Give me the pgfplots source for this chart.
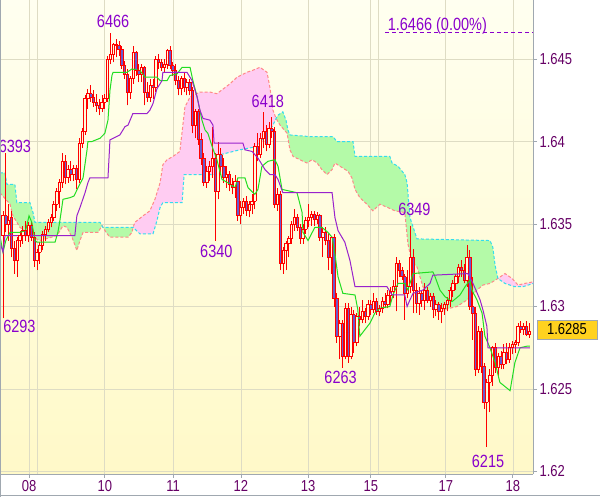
\documentclass[border=0pt]{standalone}
\usepackage{fontspec}
\setmainfont{Liberation Sans}
\usepackage{graphicx}
\usepackage{pgfplots}
\usepackage{pgfplotstable}
\pgfplotsset{compat=1.18}
\definecolor{bgtop}{HTML}{FFFFF0}
\definecolor{bgbot}{HTML}{FFF9C8}
\definecolor{gridc}{HTML}{DEDCC4}
\definecolor{axgray}{HTML}{A0A8B0}
\definecolor{tickc}{HTML}{660066}
\definecolor{annotc}{HTML}{8A00CC}
\definecolor{cred}{HTML}{FF0000}
\definecolor{bearfill}{HTML}{6A5ACD}
\definecolor{bullfill}{HTML}{FFFCDC}
\definecolor{tenkanc}{HTML}{22DD22}
\definecolor{kijunc}{HTML}{9922CC}
\definecolor{spanac}{HTML}{33DDEE}
\definecolor{spanbc}{HTML}{FF8888}
\definecolor{greenfill}{HTML}{B4FAA8}
\definecolor{pinkfill}{HTML}{FFCCF2}
\definecolor{goldc}{HTML}{FFD21F}
\newcommand{\tl}[1]{\scalebox{1}[1.22]{#1}}
\pgfplotsset{nomark/.style={only marks, mark=*, mark size=0pt, mark options={draw=none, fill=none}}}

\pgfplotstableread{
i o h l c
0 1.6343 1.6358 1.6293 1.6355
1 1.6355 1.6393 1.6345 1.6350
2 1.6350 1.6362 1.6340 1.6352
3 1.6354 1.6358 1.6330 1.6335
4 1.6335 1.6340 1.6320 1.6328
5 1.6328 1.6342 1.6318 1.6340
6 1.6340 1.6346 1.6336 1.6343
7 1.6343 1.6349 1.6338 1.6346
8 1.6346 1.6352 1.6340 1.6343
9 1.6343 1.6351 1.6339 1.6349
10 1.6349 1.6352 1.6340 1.6342
11 1.6342 1.6345 1.6324 1.6328
12 1.6328 1.6335 1.6322 1.6333
13 1.6333 1.6339 1.6326 1.6337
14 1.6337 1.6346 1.6334 1.6344
15 1.6344 1.6349 1.6340 1.6347
16 1.6347 1.6353 1.6345 1.6351
17 1.6351 1.6356 1.6348 1.6354
18 1.6354 1.6364 1.6352 1.6362
19 1.6362 1.6372 1.6358 1.6370
20 1.6370 1.6377 1.6360 1.6375
21 1.6375 1.6393 1.6372 1.6388
22 1.6388 1.6392 1.6374 1.6378
23 1.6378 1.6386 1.6375 1.6383
24 1.6383 1.6388 1.6376 1.6380
25 1.6380 1.6386 1.6376 1.6384
26 1.6384 1.6386 1.6371 1.6377
27 1.6377 1.6402 1.6375 1.6399
28 1.6399 1.6408 1.6396 1.6406
29 1.6406 1.6428 1.6404 1.6426
30 1.6426 1.6432 1.6420 1.6429
31 1.6429 1.6434 1.6424 1.6427
32 1.6427 1.6431 1.6421 1.6424
33 1.6424 1.6429 1.6418 1.6422
34 1.6422 1.6426 1.6416 1.6420
35 1.6420 1.6428 1.6418 1.6424
36 1.6424 1.6429 1.6420 1.6426
37 1.6426 1.6452 1.6424 1.6450
38 1.6450 1.6466 1.6447 1.6453
39 1.6453 1.6460 1.6448 1.6459
40 1.6459 1.6462 1.6451 1.6458
41 1.6458 1.6461 1.6452 1.6456
42 1.6456 1.6458 1.6444 1.6446
43 1.6446 1.6449 1.6438 1.6441
44 1.6441 1.6444 1.6422 1.6430
45 1.6430 1.6440 1.6426 1.6438
46 1.6438 1.6458 1.6435 1.6454
47 1.6454 1.6455 1.6440 1.6443
48 1.6443 1.6447 1.6436 1.6441
49 1.6441 1.6447 1.6436 1.6445
50 1.6445 1.6446 1.6422 1.6430
51 1.6430 1.6436 1.6424 1.6427
52 1.6427 1.6438 1.6424 1.6434
53 1.6434 1.6438 1.6426 1.6433
54 1.6433 1.6452 1.6430 1.6450
55 1.6450 1.6453 1.6444 1.6448
56 1.6448 1.6450 1.6443 1.6445
57 1.6445 1.6450 1.6442 1.6447
58 1.6447 1.6456 1.6444 1.6455
59 1.6455 1.6458 1.6444 1.6446
60 1.6446 1.6448 1.6440 1.6443
61 1.6443 1.6447 1.6434 1.6437
62 1.6437 1.6440 1.6428 1.6432
63 1.6432 1.6440 1.6428 1.6438
64 1.6438 1.6442 1.6430 1.6433
65 1.6433 1.6438 1.6428 1.6436
66 1.6436 1.6438 1.6428 1.6431
67 1.6431 1.6433 1.6405 1.6410
68 1.6410 1.6420 1.6402 1.6418
69 1.6418 1.6420 1.6398 1.6401
70 1.6401 1.6405 1.6386 1.6390
71 1.6390 1.6393 1.6373 1.6375
72 1.6375 1.6385 1.6372 1.6382
73 1.6382 1.6388 1.6376 1.6385
74 1.6385 1.6409 1.6378 1.6390
75 1.6390 1.6393 1.6340 1.6370
76 1.6370 1.6400 1.6365 1.6392
77 1.6392 1.6396 1.6380 1.6385
78 1.6385 1.6390 1.6375 1.6378
79 1.6378 1.6385 1.6372 1.6380
80 1.6380 1.6382 1.6370 1.6374
81 1.6374 1.6378 1.6368 1.6372
82 1.6372 1.6380 1.6366 1.6376
83 1.6376 1.6378 1.6352 1.6355
84 1.6355 1.6364 1.6350 1.6360
85 1.6360 1.6366 1.6356 1.6364
86 1.6364 1.6367 1.6355 1.6358
87 1.6358 1.6364 1.6354 1.6362
88 1.6362 1.6368 1.6356 1.6364
89 1.6364 1.6399 1.6359 1.6397
90 1.6397 1.6405 1.6388 1.6392
91 1.6392 1.6405 1.6390 1.6402
92 1.6402 1.6418 1.6396 1.6406
93 1.6406 1.6410 1.6394 1.6398
94 1.6398 1.6412 1.6396 1.6408
95 1.6408 1.6415 1.6402 1.6406
96 1.6406 1.6409 1.6360 1.6362
97 1.6362 1.6372 1.6358 1.6368
98 1.6368 1.6370 1.6322 1.6326
99 1.6326 1.6336 1.6320 1.6334
100 1.6334 1.6340 1.6322 1.6338
101 1.6338 1.6343 1.6330 1.6341
102 1.6341 1.6352 1.6338 1.6350
103 1.6350 1.6359 1.6346 1.6354
104 1.6354 1.6356 1.6346 1.6348
105 1.6348 1.6350 1.6338 1.6341
106 1.6341 1.6350 1.6338 1.6347
107 1.6347 1.6354 1.6344 1.6352
108 1.6352 1.6362 1.6348 1.6354
109 1.6354 1.6358 1.6349 1.6356
110 1.6356 1.6358 1.6349 1.6353
111 1.6353 1.6357 1.6350 1.6355
112 1.6355 1.6356 1.6340 1.6342
113 1.6342 1.6348 1.6330 1.6345
114 1.6345 1.6348 1.6337 1.6340
115 1.6340 1.6344 1.6322 1.6330
116 1.6330 1.6343 1.6320 1.6342
117 1.6342 1.6344 1.6300 1.6305
118 1.6305 1.6308 1.6278 1.6282
119 1.6282 1.6292 1.6268 1.6290
120 1.6290 1.6292 1.6263 1.6270
121 1.6270 1.6302 1.6268 1.6299
122 1.6299 1.6302 1.6266 1.6270
123 1.6270 1.6300 1.6268 1.6295
124 1.6295 1.6298 1.6272 1.6278
125 1.6278 1.6296 1.6276 1.6294
126 1.6294 1.6300 1.6288 1.6292
127 1.6292 1.6304 1.6290 1.6297
128 1.6297 1.6299 1.6290 1.6294
129 1.6294 1.6304 1.6292 1.6301
130 1.6301 1.6304 1.6295 1.6298
131 1.6298 1.6308 1.6296 1.6303
132 1.6303 1.6305 1.6295 1.6297
133 1.6297 1.6301 1.6294 1.6299
134 1.6299 1.6306 1.6296 1.6303
135 1.6303 1.6308 1.6299 1.6301
136 1.6301 1.6310 1.6299 1.6307
137 1.6307 1.6312 1.6302 1.6309
138 1.6309 1.6316 1.6305 1.6312
139 1.6312 1.6330 1.6297 1.6326
140 1.6326 1.6328 1.6318 1.6322
141 1.6322 1.6324 1.6316 1.6318
142 1.6318 1.6320 1.6292 1.6308
143 1.6308 1.6322 1.6305 1.6312
144 1.6312 1.6349 1.6308 1.6330
145 1.6330 1.6335 1.6296 1.6310
146 1.6310 1.6314 1.6296 1.6302
147 1.6302 1.6312 1.6295 1.6308
148 1.6308 1.6310 1.6300 1.6304
149 1.6304 1.6314 1.6298 1.6310
150 1.6310 1.6312 1.6302 1.6304
151 1.6304 1.6308 1.6300 1.6306
152 1.6306 1.6308 1.6293 1.6298
153 1.6298 1.6304 1.6294 1.6301
154 1.6301 1.6303 1.6292 1.6297
155 1.6297 1.6302 1.6290 1.6299
156 1.6299 1.6303 1.6295 1.6301
157 1.6301 1.6306 1.6297 1.6304
158 1.6304 1.6312 1.6300 1.6310
159 1.6310 1.6316 1.6306 1.6314
160 1.6314 1.6320 1.6310 1.6318
161 1.6318 1.6326 1.6314 1.6324
162 1.6324 1.6328 1.6318 1.6322
163 1.6322 1.6326 1.6314 1.6316
164 1.6316 1.6337 1.6312 1.6330
165 1.6330 1.6334 1.6298 1.6300
166 1.6300 1.6318 1.6280 1.6296
167 1.6296 1.6300 1.6258 1.6262
168 1.6262 1.6288 1.6260 1.6285
169 1.6285 1.6287 1.6260 1.6264
170 1.6264 1.6266 1.6238 1.6242
171 1.6242 1.6256 1.6215 1.6254
172 1.6254 1.6262 1.6236 1.6258
173 1.6258 1.6276 1.6252 1.6275
174 1.6275 1.6278 1.6260 1.6263
175 1.6263 1.6272 1.6258 1.6270
176 1.6270 1.6273 1.6262 1.6265
177 1.6265 1.6277 1.6262 1.6272
178 1.6272 1.6278 1.6265 1.6268
179 1.6268 1.6278 1.6266 1.6275
180 1.6275 1.6279 1.6271 1.6277
181 1.6277 1.6280 1.6272 1.6278
182 1.6278 1.6290 1.6276 1.6288
183 1.6288 1.6291 1.6284 1.6286
184 1.6286 1.6290 1.6283 1.6288
185 1.6288 1.6291 1.6282 1.6283
186 1.6283 1.6290 1.6281 1.6285
}\candles

\pgfplotstableread{
x y
-1.1 1.6343
0 1.6333
1 1.6340
2.5 1.6345
6 1.6345
8 1.6346
9.2 1.6355
10.2 1.6351
11.3 1.6340
12 1.6339
18.4 1.6339
19.4 1.6345
20.1 1.6352
21.2 1.6365
23.7 1.6366
25.1 1.6367
26.5 1.6372
28.3 1.6378
29.7 1.6395
30 1.6400
31.4 1.6400
34.3 1.6402
36 1.6405
37.1 1.6413
37.8 1.6431
38.5 1.6440
38.9 1.6442
43.8 1.6442
45.6 1.6444
48.4 1.6443
50.2 1.6439
54.4 1.6439
55.5 1.6437
58 1.6437
59 1.6440
61.5 1.6441
63.3 1.6445
66.1 1.6445
67.1 1.6437
68.6 1.6427
70.3 1.6413
71.4 1.6407
72.4 1.6405
73.9 1.6397
75.6 1.6389
77.4 1.6377
79.5 1.6375
82 1.6372
83 1.6378
85.5 1.6378
86.6 1.6372
89 1.6368
90.1 1.6371
91.5 1.6385
93.6 1.6388
96.1 1.6389
97.2 1.6385
98.6 1.6371
103.9 1.6369
105.7 1.6357
106 1.6345
107.8 1.6340
110.2 1.6348
112.7 1.6348
114.8 1.6345
116.3 1.6342
117.3 1.6332
118.4 1.6318
120.1 1.6308
124.4 1.6307
125.4 1.6298
126.1 1.6282
127.9 1.6286
129.7 1.6290
131.4 1.6296
133.2 1.6299
136.7 1.6300
137.8 1.6307
139.6 1.6314
142 1.6314
143.1 1.6310
144.9 1.6320
151.9 1.6321
152.7 1.6318
154.4 1.6310
156.2 1.6306
158.7 1.6303
161.5 1.6307
163.3 1.6312
165 1.6316
165.7 1.6310
167.5 1.6304
169.3 1.6296
170.3 1.6282
172.1 1.6275
173.9 1.6266
175.6 1.6254
179.2 1.6249
180.9 1.6266
182.7 1.6275
185.2 1.6276
186.2 1.6276
}\tenkan

\pgfplotstableread{
x y
-1.1 1.6339
0 1.6333
0.7 1.6343
25.4 1.6343
26.1 1.6355
27.2 1.6360
29 1.6369
30 1.6375
30.7 1.6378
37.1 1.6378
37.8 1.6401
41.3 1.6404
43.1 1.6409
44.2 1.6410
45.9 1.6417
50.9 1.6417
51.9 1.6419
53 1.6423
54.4 1.6432
55.5 1.6435
56.2 1.6437
56.5 1.6442
65 1.6442
66.8 1.6437
68.6 1.6427
69.6 1.6419
70.7 1.6414
73.1 1.6413
74.2 1.6410
74.6 1.6399
84.8 1.6399
85.5 1.6395
88 1.6394
90.1 1.6390
92.6 1.6383
94.3 1.6380
96.1 1.6380
97.2 1.6377
98.9 1.6369
116.3 1.6369
117.3 1.6354
118.4 1.6346
120.8 1.6339
122.6 1.6328
124.4 1.6312
135.7 1.6312
137.5 1.6307
142 1.6307
142.8 1.6300
143.8 1.6304
144.9 1.6308
148.4 1.6310
150.9 1.6314
151.9 1.6319
164.3 1.6320
166.1 1.6314
168.6 1.6304
169.6 1.6298
171 1.6288
171.4 1.6275
186.2 1.6275
}\kijun

\pgfplotstableread{
x y
-1.1 1.6381
0.7 1.6381
1.4 1.6374
4.2 1.6374
4.9 1.6363
9.5 1.6363
10.6 1.6357
11.3 1.6351
34.3 1.6351
35.3 1.6348
46 1.6348
48.4 1.6344
53 1.6344
54.4 1.6352
55.5 1.6360
56.5 1.6363
63.3 1.6363
64 1.6380
76 1.6380
76.7 1.6392
83.7 1.6395
89.8 1.6397
91.5 1.6401
93.3 1.6404
95.4 1.6410
96.5 1.6414
97.2 1.6416
98.9 1.6418
100 1.6413
100.7 1.6407
101.4 1.6404
108.5 1.6403
116.6 1.6403
118 1.6400
123.7 1.6400
124.4 1.6391
136.7 1.6391
137.5 1.6387
139.6 1.6385
142 1.6380
142.8 1.6375
143.8 1.6354
146.3 1.6341
172.1 1.6340
173.1 1.6336
173.9 1.6325
174.9 1.6317
177.4 1.6314
180.9 1.6312
183.7 1.6312
187.4 1.6314
}\spanA

\pgfplotstableread{
x y
-1.1 1.6369
2.5 1.6362
3.5 1.6355
6 1.6348
10.6 1.6342
13.1 1.6340
19.1 1.6343
21.2 1.6349
22.6 1.6348
24.4 1.6342
26.1 1.6334
27.2 1.6340
28.3 1.6345
33.6 1.6345
35 1.6349
36.4 1.6345
37.8 1.6342
44.2 1.6342
45.6 1.6345
46 1.6348
46.6 1.6351
49.5 1.6355
51.9 1.6358
53.7 1.6365
55.5 1.6375
56.5 1.6386
58 1.6389
60.1 1.6391
62.5 1.6394
64.3 1.6421
66.1 1.6427
69.6 1.6430
73.1 1.6430
75.6 1.6429
80.2 1.6435
82.7 1.6439
86.2 1.6442
88 1.6443
90.8 1.6445
93.3 1.6442
94.3 1.6433
95.4 1.6419
96.5 1.6414
97.9 1.6410
100.4 1.6405
101.4 1.6395
102.5 1.6391
104.9 1.6389
107.4 1.6387
109.2 1.6389
111 1.6387
112.7 1.6383
114.5 1.6380
116.3 1.6383
117.3 1.6387
119.1 1.6385
121.9 1.6382
123.3 1.6378
124.4 1.6371
126.1 1.6366
128.6 1.6362
130.7 1.6358
133.2 1.6362
136 1.6360
138.5 1.6358
142 1.6357
143.1 1.6338
144.5 1.6327
146.3 1.6324
148.4 1.6312
150.9 1.6304
153.4 1.6300
155.5 1.6298
160.4 1.6300
164 1.6304
167.5 1.6310
169.6 1.6313
172.1 1.6314
174.9 1.6317
177.4 1.6320
179.9 1.6317
182 1.6313
184.4 1.6314
187.4 1.6315
}\spanB

\begin{document}
\begin{tikzpicture}
\useasboundingbox (0pt,-23pt) rectangle (600pt,474pt);
\fill[white] (0pt,-23pt) rectangle (600pt,474pt);
\begin{axis}[
  scale only axis, width=533pt, height=474pt,
  xmin=-1.06, xmax=187.3, ymin=1.61985, ymax=1.64858,
  axis background/.style={top color=bgtop, bottom color=bgbot},
  axis x line*=bottom, axis y line*=right,
  axis line style={draw=axgray, line width=0.9pt},
  tick align=outside, major tick length=4pt,
  tick style={draw=axgray, line width=0.9pt},
  grid=major, major grid style={draw=gridc, line width=0.8pt},
  xtick={9.2,36,60.1,84.1,107.8,130,156.5,180.2},
  xticklabels={\tl{08},\tl{10},\tl{11},\tl{12},\tl{13},\tl{15},\tl{17},\tl{18}},
  extra x ticks={12,132.5}, extra x tick labels={},
  extra x tick style={major tick length=0pt, grid=major},
  ytick={1.62,1.625,1.63,1.635,1.64,1.645},
  yticklabels={\tl{1.62},\tl{1.625},\tl{1.63},\tl{1.635},\tl{1.64},\tl{1.645}},
  ticklabel style={font=\fontsize{13}{13}\selectfont, text=tickc},
  yticklabel style={anchor=west, xshift=-1pt},
  xticklabel style={yshift=1pt},
  clip=true,
]
% cloud fills (span A forward, span B back)
\addplot[fill=greenfill, draw=none] table[x=x,y=y] {
x y
-1.1 1.6381
0.7 1.6381
1.4 1.6374
4.2 1.6374
4.9 1.6363
9.5 1.6363
10.6 1.6357
11.3 1.6351
34.3 1.6351
35.3 1.6348
46 1.6348
45.6 1.6345
44.2 1.6342
37.8 1.6342
36.4 1.6345
35 1.6349
33.6 1.6345
28.3 1.6345
27.2 1.6340
26.1 1.6334
24.4 1.6342
22.6 1.6348
21.2 1.6349
19.1 1.6343
13.1 1.6340
10.6 1.6342
6 1.6348
3.5 1.6355
2.5 1.6362
-1.1 1.6369
};
\addplot[fill=pinkfill, draw=none] table[x=x,y=y] {
x y
46 1.6348
46.6 1.6351
49.5 1.6355
51.9 1.6358
53.7 1.6365
55.5 1.6375
56.5 1.6386
58 1.6389
60.1 1.6391
62.5 1.6394
64.3 1.6421
66.1 1.6427
69.6 1.6430
73.1 1.6430
75.6 1.6429
80.2 1.6435
82.7 1.6439
86.2 1.6442
88 1.6443
90.8 1.6445
93.3 1.6442
94.3 1.6433
95.4 1.6419
96.5 1.6414
95.4 1.6410
93.3 1.6404
91.5 1.6401
89.8 1.6397
83.7 1.6395
76.7 1.6392
76 1.6380
64 1.6380
63.3 1.6363
56.5 1.6363
55.5 1.6360
54.4 1.6352
53 1.6344
48.4 1.6344
};
\addplot[fill=greenfill, draw=none] table[x=x,y=y] {
x y
96.5 1.6414
97.2 1.6416
98.9 1.6418
100 1.6413
100.7 1.6407
101.4 1.6404
108.5 1.6403
116.6 1.6403
118 1.6400
123.7 1.6400
124.4 1.6391
136.7 1.6391
137.5 1.6387
139.6 1.6385
142 1.6380
142.8 1.6375
143.8 1.6354
146.3 1.6341
172.1 1.6340
173.1 1.6336
173.9 1.6325
174.9 1.6317
172.1 1.6314
169.6 1.6313
167.5 1.6310
164 1.6304
160.4 1.6300
155.5 1.6298
153.4 1.6300
150.9 1.6304
148.4 1.6312
146.3 1.6324
144.5 1.6327
143.1 1.6338
142 1.6357
138.5 1.6358
136 1.6360
133.2 1.6362
130.7 1.6358
128.6 1.6362
126.1 1.6366
124.4 1.6371
123.3 1.6378
121.9 1.6382
119.1 1.6385
117.3 1.6387
116.3 1.6383
114.5 1.6380
112.7 1.6383
111 1.6387
109.2 1.6389
107.4 1.6387
104.9 1.6389
102.5 1.6391
101.4 1.6395
100.4 1.6405
97.9 1.6410
};
\addplot[fill=pinkfill, draw=none] table[x=x,y=y] {
x y
174.9 1.6317
177.4 1.6320
179.9 1.6317
182 1.6313
184.4 1.6314
187.4 1.6315
187.4 1.6314
183.7 1.6312
180.9 1.6312
177.4 1.6314
};
\addplot[draw=spanbc, line width=1pt, dash pattern=on 3pt off 2pt] table[x=x,y=y] {\spanB};
\addplot[draw=spanac, line width=1pt, dash pattern=on 3pt off 2pt] table[x=x,y=y] {\spanA};
% candles: wicks
\addplot[nomark, error bars/.cd, y dir=plus, y explicit, error mark=none,
  error bar style={draw=cred, line width=0.9pt}]
  table[x=i, y=l, y error expr={\thisrow{h}-\thisrow{l}}] {\candles};
% bodies fill
\addplot[nomark, restrict expr to domain={\thisrow{c}-\thisrow{o}}{0:1},
  error bars/.cd, y dir=both, y explicit, error mark=none,
  error bar style={draw=bullfill, line width=1.6pt}]
  table[x=i, y expr={(\thisrow{o}+\thisrow{c})/2}, y error expr={abs(\thisrow{c}-\thisrow{o})/2}] {\candles};
\addplot[nomark, restrict expr to domain={\thisrow{c}-\thisrow{o}}{-1:0},
  error bars/.cd, y dir=both, y explicit, error mark=none,
  error bar style={draw=bearfill, line width=1.6pt}]
  table[x=i, y expr={(\thisrow{o}+\thisrow{c})/2}, y error expr={abs(\thisrow{c}-\thisrow{o})/2}] {\candles};
% body edges
\addplot[nomark, error bars/.cd, y dir=both, y explicit, error mark=none,
  error bar style={draw=cred, line width=0.8pt}]
  table[x expr={\thisrow{i}-0.42}, y expr={(\thisrow{o}+\thisrow{c})/2}, y error expr={abs(\thisrow{c}-\thisrow{o})/2}] {\candles};
\addplot[nomark, error bars/.cd, y dir=both, y explicit, error mark=none,
  error bar style={draw=cred, line width=0.8pt}]
  table[x expr={\thisrow{i}+0.42}, y expr={(\thisrow{o}+\thisrow{c})/2}, y error expr={abs(\thisrow{c}-\thisrow{o})/2}] {\candles};
\addplot[only marks, mark=-, mark size=1.6pt, mark options={draw=cred, line width=0.8pt}]
  table[x=i, y=o] {\candles};
\addplot[only marks, mark=-, mark size=1.6pt, mark options={draw=cred, line width=0.8pt}]
  table[x=i, y=c] {\candles};
% tenkan and kijun
\addplot[draw=tenkanc, line width=1pt, mark=none] table[x=x,y=y] {\tenkan};
\addplot[draw=kijunc, line width=1pt, mark=none] table[x=x,y=y] {\kijun};
% last high reference line
\addplot[draw=annotc, line width=0.9pt, dash pattern=on 4pt off 3pt, mark=none] coordinates {(135,1.64662) (187.3,1.64662)};
% annotations
\node[font=\fontsize{14.5}{14.5}\selectfont, text=annotc, inner sep=0pt] at (axis cs:38.9,1.64727) {\tl{6466}};
\node[font=\fontsize{14.5}{14.5}\selectfont, text=annotc, inner sep=0pt] at (axis cs:4.2,1.63973) {\tl{6393}};
\node[font=\fontsize{14.5}{14.5}\selectfont, text=annotc, inner sep=0pt] at (axis cs:5.8,1.62882) {\tl{6293}};
\node[font=\fontsize{14.5}{14.5}\selectfont, text=annotc, inner sep=0pt] at (axis cs:75.4,1.63333) {\tl{6340}};
\node[font=\fontsize{14.5}{14.5}\selectfont, text=annotc, inner sep=0pt] at (axis cs:93.6,1.64242) {\tl{6418}};
\node[font=\fontsize{14.5}{14.5}\selectfont, text=annotc, inner sep=0pt] at (axis cs:119.3,1.62570) {\tl{6263}};
\node[font=\fontsize{14.5}{14.5}\selectfont, text=annotc, inner sep=0pt] at (axis cs:145.4,1.63588) {\tl{6349}};
\node[font=\fontsize{14.5}{14.5}\selectfont, text=annotc, inner sep=0pt] at (axis cs:171.4,1.62060) {\tl{6215}};
\node[font=\fontsize{14.5}{14.5}\selectfont, text=annotc, inner sep=0pt] at (axis cs:153.5,1.64700) {\tl{1.6466 (0.00\%)}};
\end{axis}
\draw[axgray, line width=1pt] (0.5pt,-23pt) -- (0.5pt,474pt);
\draw[axgray, line width=1pt] (0pt,-21.7pt) -- (600pt,-21.7pt);
\node[draw=axgray, line width=0.8pt, fill=goldc, minimum width=60pt, minimum height=19pt, inner sep=0pt,
  font=\fontsize{13}{13}\selectfont] at (567pt,144.5pt) {\tl{1.6285}};
\end{tikzpicture}
\end{document}
